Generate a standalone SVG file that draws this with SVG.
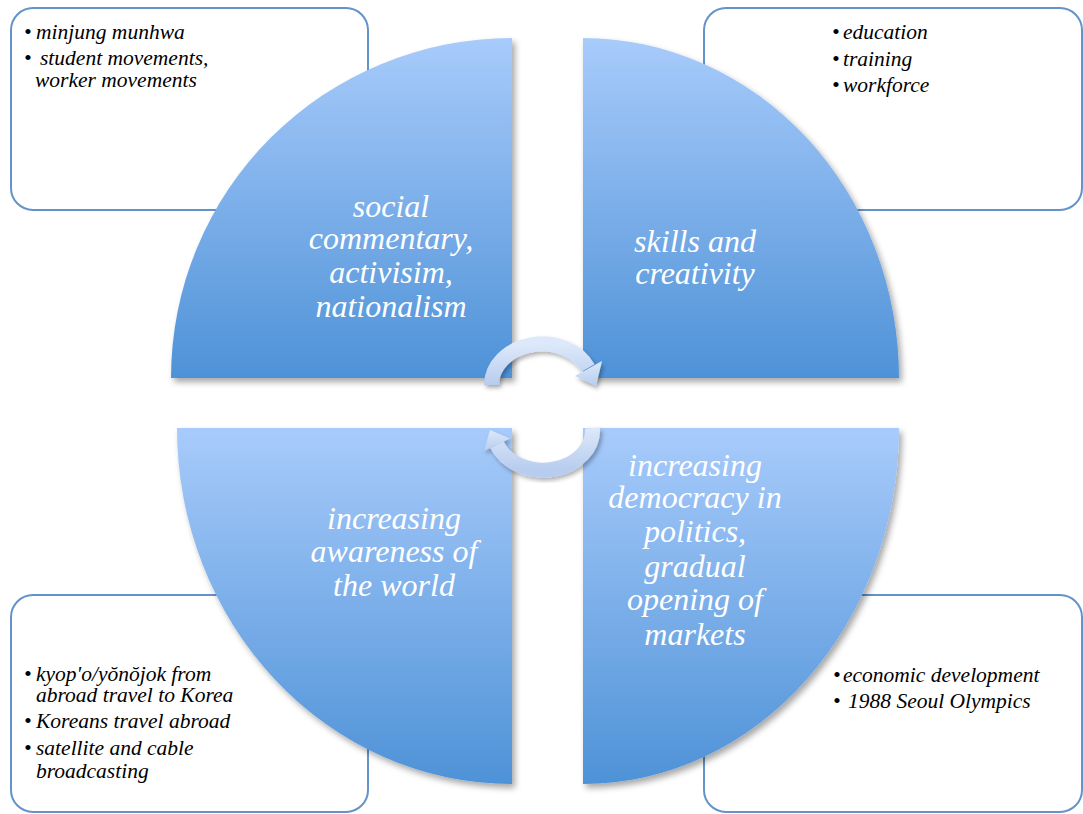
<svg xmlns="http://www.w3.org/2000/svg" width="1083" height="814" viewBox="0 0 1083 814">
<defs>
<linearGradient id="qg" x1="0" y1="0" x2="0" y2="1"><stop offset="0" stop-color="#a8cbfb"/><stop offset="1" stop-color="#4e92d7"/></linearGradient>
<linearGradient id="ag" x1="0" y1="0" x2="0" y2="1"><stop offset="0" stop-color="#dde9fa"/><stop offset="1" stop-color="#b7ccee"/></linearGradient>
<filter id="sh" x="-10%" y="-10%" width="130%" height="130%"><feDropShadow dx="3" dy="4" stdDeviation="3" flood-color="#000" flood-opacity="0.35"/></filter>
<filter id="ash" x="-20%" y="-20%" width="150%" height="150%"><feDropShadow dx="2" dy="3" stdDeviation="2" flood-color="#000" flood-opacity="0.3"/></filter>
</defs>
<style>
.box{fill:#fff;stroke:#6493c9;stroke-width:2}
.q{fill:url(#qg);filter:url(#sh)}
.bt{font-family:"Liberation Serif",serif;font-style:italic;font-size:21.5px;fill:#000}
.lb{font-family:"Liberation Serif",serif;font-style:italic;font-size:32px;fill:#fff;text-anchor:middle}
.arr{fill:none;stroke:url(#ag);stroke-width:15}
.ah{fill:url(#ag)}
</style>

<g id="box-tl">
<rect class="box" x="11" y="8" width="357" height="202" rx="22"/>
<text class="bt" x="24" y="39">•</text><text class="bt" x="36" y="39">minjung munhwa</text>
<text class="bt" x="24" y="65">•</text><text class="bt" x="40" y="65">student movements,</text>
<text class="bt" x="35" y="87">worker movements</text>
</g>
<g id="box-tr">
<rect class="box" x="704" y="8" width="378" height="202" rx="22"/>
<text class="bt" x="832" y="39">•</text><text class="bt" x="843" y="39">education</text>
<text class="bt" x="832" y="66">•</text><text class="bt" x="843" y="66">training</text>
<text class="bt" x="832" y="92">•</text><text class="bt" x="843" y="92">workforce</text>
</g>
<g id="box-bl">
<rect class="box" x="11" y="595" width="357" height="217" rx="22"/>
<text class="bt" x="24" y="681">•</text><text class="bt" x="36" y="681">kyop'o/yŏnŏjok from</text>
<text class="bt" x="36" y="702">abroad travel to Korea</text>
<text class="bt" x="24" y="728">•</text><text class="bt" x="36" y="728">Koreans travel abroad</text>
<text class="bt" x="24" y="755">•</text><text class="bt" x="36" y="755">satellite and cable</text>
<text class="bt" x="36" y="778">broadcasting</text>
</g>
<g id="box-br">
<rect class="box" x="704" y="595" width="378" height="217" rx="22"/>
<text class="bt" x="833" y="682">•</text><text class="bt" x="843" y="682">economic development</text>
<text class="bt" x="833" y="708">•</text><text class="bt" x="848" y="708">1988 Seoul Olympics</text>
</g>

<g id="quad-tl">
<path class="q" d="M512,378 L171,378 A341,340 0 0 1 512,38 Z"/>
<text class="lb" x="391" y="217">social</text>
<text class="lb" x="391" y="249">commentary,</text>
<text class="lb" x="391" y="283">activisim,</text>
<text class="lb" x="391" y="317">nationalism</text>
</g>
<g id="quad-tr">
<path class="q" d="M583,378 L583,38 A316,340 0 0 1 899,378 Z"/>
<text class="lb" x="695" y="252">skills and</text>
<text class="lb" x="695" y="284">creativity</text>
</g>
<g id="quad-bl">
<path class="q" d="M512,428 L512,784 A335,356 0 0 1 177,428 Z"/>
<text class="lb" x="394" y="529">increasing</text>
<text class="lb" x="394" y="562">awareness of</text>
<text class="lb" x="394" y="596">the world</text>
</g>
<g id="quad-br">
<path class="q" d="M583,428 L899,428 A316,356 0 0 1 583,784 Z"/>
<text class="lb" x="695" y="476">increasing</text>
<text class="lb" x="695" y="508">democracy in</text>
<text class="lb" x="695" y="542">politics,</text>
<text class="lb" x="695" y="577">gradual</text>
<text class="lb" x="695" y="610">opening of</text>
<text class="lb" x="695" y="645">markets</text>
</g>

<g id="connectors">
<g id="arrow-top" filter="url(#ash)">
<path class="arr" d="M491.5,385 A50.5,41 0 0 1 588,368"/>
<path class="ah" d="M575,376 L602,361 L596,386 Z"/>
</g>
<g id="arrow-bottom" filter="url(#ash)">
<path class="arr" d="M592.5,428 A49.5,40 0 0 1 497,444.8"/>
<path class="ah" d="M484,451 L510,438.6 L490,430 Z"/>
</g>
</g>
</svg>
